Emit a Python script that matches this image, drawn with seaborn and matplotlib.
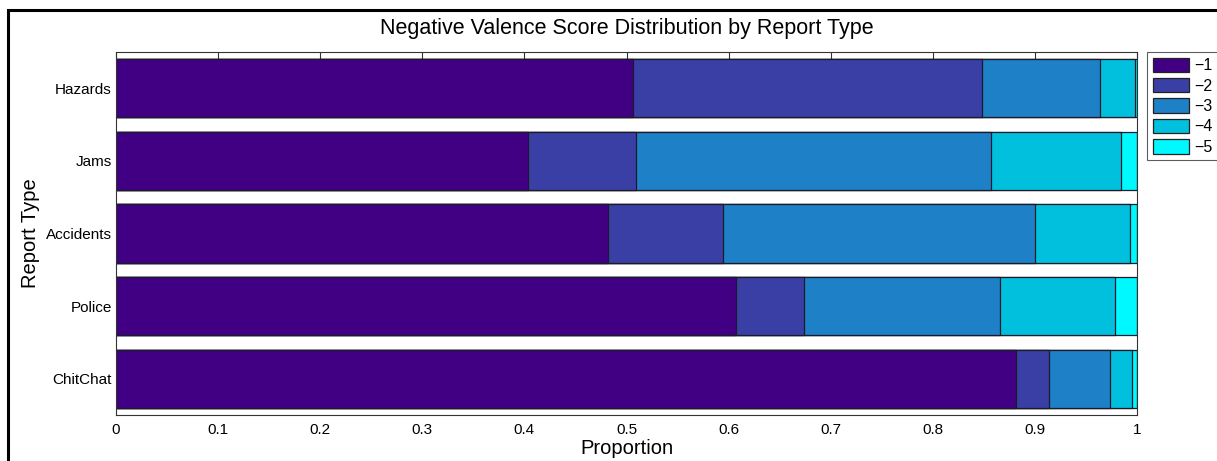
import numpy as np
import matplotlib
matplotlib.use('Agg')
import matplotlib.pyplot as plt
from matplotlib.patches import Patch, Rectangle
import pandas as pd
import seaborn as sns

# Dados (proporção de cada escore por tipo de relato)
report_types = ['Hazards', 'Jams', 'Accidents', 'Police', 'ChitChat']
scores = ['\u22121', '\u22122', '\u22123', '\u22124', '\u22125']
p_m1 = [0.506, 0.404, 0.482, 0.607, 0.881]
p_m2 = [0.342, 0.105, 0.113, 0.067, 0.033]
p_m3 = [0.116, 0.348, 0.305, 0.192, 0.060]
p_m4 = [0.034, 0.127, 0.093, 0.112, 0.021]
p_m5 = [0.002, 0.016, 0.007, 0.022, 0.005]
xticks = [0, 0.1, 0.2, 0.3, 0.4, 0.5, 0.6, 0.7, 0.8, 0.9, 1]
xticklabels = ['0', '0.1', '0.2', '0.3', '0.4', '0.5', '0.6', '0.7', '0.8', '0.9', '1']

colors = ['#410084', '#3a3fa5', '#1e80c6', '#00c0de', '#00f8ff']

sns.set_style('white')
plt.rcParams['font.family'] = ['Liberation Sans', 'DejaVu Sans']
plt.rcParams['text.color'] = 'black'
plt.rcParams['axes.labelcolor'] = 'black'
plt.rcParams['xtick.color'] = 'black'
plt.rcParams['ytick.color'] = 'black'

# Tabela com as somas acumuladas
df = pd.DataFrame({'tipo': report_types, '-1': p_m1, '-2': p_m2,
                   '-3': p_m3, '-4': p_m4, '-5': p_m5})
parts = ['-1', '-2', '-3', '-4', '-5']
cum = df[parts].cumsum(axis=1)

fig = plt.figure(figsize=(12.17, 4.61), dpi=100)
ax = fig.add_axes([116 / 1217, 1 - 415 / 461, (1137 - 116) / 1217, (415 - 52) / 461])

# Desenha do maior acumulado para o menor, sobrepondo as barras
for i in range(4, -1, -1):
    sns.barplot(x=cum[parts[i]], y=df['tipo'], order=report_types, orient='h',
                color=colors[i], saturation=1, width=0.8, ax=ax,
                edgecolor='#1a1a2a', linewidth=0.9)

ax.set_xlim(0, 1)
ax.set_ylim(4.5, -0.5)
ax.set_xticks(xticks)
ax.set_xticklabels(xticklabels)
ax.tick_params(axis='x', direction='in', length=5, width=0.8, top=True,
               labelsize=11, pad=6, color='#333333')
ax.tick_params(axis='y', length=0, labelsize=11, pad=3)
for s in ax.spines.values():
    s.set_visible(True)
    s.set_color('#333333')
    s.set_linewidth(0.8)

ax.set_xlabel('Proportion', fontsize=14.5, labelpad=1)
ax.set_ylabel('Report Type', fontsize=14.5, labelpad=4)
ax.set_title('Negative Valence Score Distribution by Report Type', fontsize=15.5, pad=13)

handles = [Patch(facecolor=c, edgecolor='#222222', linewidth=0.9) for c in colors]
leg = fig.legend(handles, scores, loc='upper left',
                 bbox_to_anchor=(1147 / 1217, 1 - 52 / 461), fontsize=11.5,
                 frameon=True, fancybox=False, handlelength=2.3, handleheight=1.0,
                 labelspacing=0.3, handletextpad=0.3, borderpad=0.35, borderaxespad=0)
leg.get_frame().set_edgecolor('#333333')
leg.get_frame().set_linewidth(0.8)

# Moldura externa (cortada à direita e embaixo, como na imagem)
fig.patches.append(Rectangle((8 / 1217, -0.2), 2.0, 1 - 10 / 461 + 0.2,
                             transform=fig.transFigure, fill=False,
                             edgecolor='black', linewidth=2.2, zorder=-1))

fig.savefig('out.png', dpi=100)
